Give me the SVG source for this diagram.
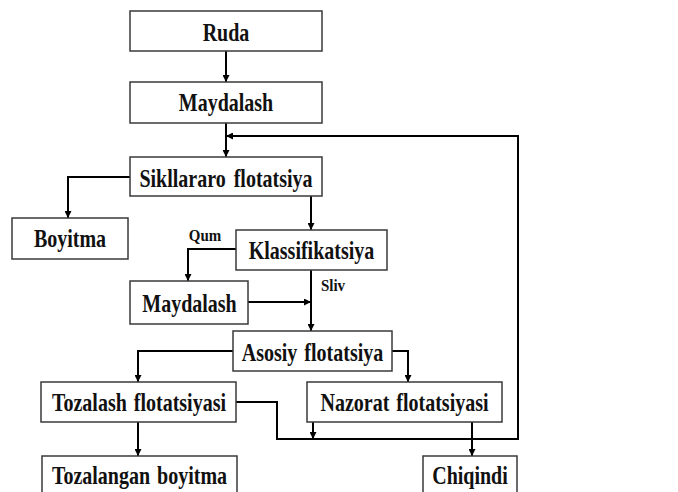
<svg xmlns="http://www.w3.org/2000/svg" width="678" height="492" viewBox="0 0 678 492">
<defs>
<style>
.box{fill:#fff;stroke:#3a3a3a;stroke-width:1.5}
.t{font-family:"Liberation Serif","Times New Roman",serif;font-weight:bold;font-size:20px;fill:#111;text-anchor:middle}
.s{font-family:"Liberation Serif","Times New Roman",serif;font-weight:bold;font-size:15px;fill:#111;text-anchor:middle}
.c{fill:none;stroke:#000;stroke-width:2}
</style>
<marker id="ah" viewBox="0 0 8 8" refX="8" refY="4" markerWidth="7" markerHeight="7" markerUnits="userSpaceOnUse" orient="auto">
<path d="M0,0 L8,4 L0,8 Z" fill="#000"/>
</marker>
</defs>
<rect width="678" height="492" fill="#fff"/>
<g id="connectors">
<path class="c" d="M226,51 V82" marker-end="url(#ah)"/>
<path class="c" d="M226,123 V157" marker-end="url(#ah)"/>
<path class="c" d="M130,177 H68 V218" marker-end="url(#ah)"/>
<path class="c" d="M311,196 V230" marker-end="url(#ah)"/>
<path class="c" d="M236,249 H188 V281" marker-end="url(#ah)"/>
<path class="c" d="M311,270 V331" marker-end="url(#ah)"/>
<path class="c" d="M248,302 H311" marker-end="url(#ah)"/>
<path class="c" d="M233,351 H138 V382" marker-end="url(#ah)"/>
<path class="c" d="M392,351 H408 V382" marker-end="url(#ah)"/>
<path class="c" d="M138,422 V456" marker-end="url(#ah)"/>
<path class="c" d="M236,402 H277 V439 H518 V136 H226" marker-end="url(#ah)"/>
<path class="c" d="M313,422 V439" marker-end="url(#ah)"/>
<path class="c" d="M472,422 V456" marker-end="url(#ah)"/>
<g transform="translate(205,241) scale(1,1.15)"><text class="s" x="0" y="0">Qum</text></g>
<g transform="translate(333,290.5) scale(1,1.15)"><text class="s" x="0" y="0">Sliv</text></g>
</g>
<g id="ruda"><rect class="box" x="130" y="11" width="192" height="40"/><g transform="translate(226,41) scale(1,1.28)"><text class="t">Ruda</text></g></g>
<g id="maydalash1"><rect class="box" x="130" y="82" width="192" height="41"/><g transform="translate(226,111) scale(1,1.28)"><text class="t">Maydalash</text></g></g>
<g id="sikllararo"><rect class="box" x="130" y="157" width="192" height="39"/><g transform="translate(226,186.5) scale(1,1.28)"><text class="t" word-spacing="3">Sikllararo flotatsiya</text></g></g>
<g id="boyitma"><rect class="box" x="12" y="218" width="116" height="41"/><g transform="translate(70,247) scale(1,1.28)"><text class="t">Boyitma</text></g></g>
<g id="klassifikatsiya"><rect class="box" x="236" y="230" width="151" height="40"/><g transform="translate(311.5,259) scale(1,1.28)"><text class="t">Klassifikatsiya</text></g></g>
<g id="maydalash2"><rect class="box" x="130" y="281" width="118" height="43"/><g transform="translate(189.5,311.5) scale(1,1.28)"><text class="t">Maydalash</text></g></g>
<g id="asosiy"><rect class="box" x="233" y="331" width="159" height="40"/><g transform="translate(312.5,361) scale(1,1.28)"><text class="t" word-spacing="2">Asosiy flotatsiya</text></g></g>
<g id="tozalash"><rect class="box" x="41" y="382" width="195" height="40"/><g transform="translate(139,410.5) scale(1,1.28)"><text class="t" word-spacing="2">Tozalash flotatsiyasi</text></g></g>
<g id="nazorat"><rect class="box" x="307" y="382" width="195" height="40"/><g transform="translate(404.5,410.5) scale(1,1.28)"><text class="t" word-spacing="2">Nazorat flotatsiyasi</text></g></g>
<g id="tozalangan"><rect class="box" x="42" y="456" width="195" height="45"/><g transform="translate(139.5,484) scale(1,1.28)"><text class="t" word-spacing="2">Tozalangan boyitma</text></g></g>
<g id="chiqindi"><rect class="box" x="423" y="456" width="94" height="45"/><g transform="translate(470,484) scale(1,1.28)"><text class="t">Chiqindi</text></g></g>
</svg>
